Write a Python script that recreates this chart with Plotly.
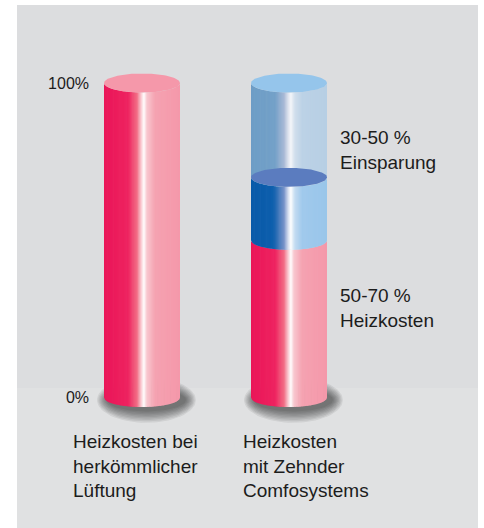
import numpy as np
import plotly.graph_objects as go

# ---------------- data ----------------
categories = ["Heizkosten bei<br>herkömmlicher<br>Lüftung",
              "Heizkosten<br>mit Zehnder<br>Comfosystems"]
conventional_stack = [100]          # heating cost with conventional ventilation
zehnder_stack = [50, 20, 30]        # min heating cost, variable part, savings
segment_labels = ["50-70 %<br>Heizkosten", "30-50 %<br>Einsparung"]
segment_label_values = [28.3, 78.6]
tick_values = [0, 100]
tick_labels = ["0%", "100%"]

# ---------------- styles ----------------
W, H = 484, 528
X0, X1 = -0.9660, 2.3265
Y0, Y1 = -41.5, 126.39
R = 0.2585          # cylinder radius in x units
RY = 3.02           # ellipse half-height in y units
NSTRIP = 64
FONT = "Liberation Sans, Arial, Helvetica, sans-serif"
TXT = "#1c1c1c"

pink_stops = [(0.0, "#ea1558"), (0.32, "#ee2360"), (0.44, "#f26f86"),
              (0.50, "#fbd6dc"), (0.53, "#ffffff"), (0.57, "#f8c6ce"),
              (0.68, "#f5a2b1"), (1.0, "#f598aa")]
dblue_stops = [(0.0, "#085aa9"), (0.30, "#0e5fad"), (0.44, "#7893c9"),
               (0.50, "#dfe6f4"), (0.53, "#ffffff"), (0.58, "#c4dcf1"),
               (0.68, "#a0c9ec"), (1.0, "#99c6ea")]
lblue_stops = [(0.0, "#6d9dc6"), (0.32, "#74a1c8"), (0.44, "#a9b9d6"),
               (0.50, "#e2e7f1"), (0.53, "#f4f6fa"), (0.58, "#d1deec"),
               (0.68, "#bcd2e6"), (1.0, "#b7cfe4")]
pink_top = "#f598aa"
dblue_top = "#5b7cbf"
lblue_top = "#95c5eb"


def hex2rgb(h):
    h = h.lstrip("#")
    return np.array([int(h[i:i + 2], 16) for i in (0, 2, 4)], dtype=float)


def grad(stops, t):
    for (t0, c0), (t1, c1) in zip(stops[:-1], stops[1:]):
        if t <= t1:
            f = 0 if t1 == t0 else (t - t0) / (t1 - t0)
            c = hex2rgb(c0) * (1 - f) + hex2rgb(c1) * f
            return "rgb(%d,%d,%d)" % tuple(np.round(c))
    c = hex2rgb(stops[-1][1])
    return "rgb(%d,%d,%d)" % tuple(c)


fig = go.Figure()


def poly(xs, ys, color):
    fig.add_trace(go.Scatter(x=xs, y=ys, mode="lines", fill="toself",
                             line=dict(width=0), fillcolor=color,
                             hoverinfo="skip", showlegend=False))


def shadow(cx):
    n = 9
    th = np.linspace(0, 2 * np.pi, 80)
    for i in range(n):
        k = i / (n - 1)
        rx = R * (1.30 - 0.26 * k)
        ry = RY * (2.4 - 1.2 * k)
        poly(cx + 0.03 + rx * np.cos(th), -0.8 + ry * np.sin(th),
             "rgba(20,20,20,0.075)")


def body(cx, low, high, stops):
    edges = np.linspace(-1, 1, NSTRIP + 1)
    pad = 0.6 / NSTRIP
    for ul, ur in zip(edges[:-1], edges[1:]):
        uc = (ul + ur) / 2
        a, b = max(-1, ul - pad), min(1, ur + pad)
        us = np.linspace(a, b, 4)
        curve = RY * np.sqrt(np.clip(1 - us * us, 0, None))
        xs = list(cx + us * R) + list(cx + us[::-1] * R)
        ys = list(low - curve) + list(high - curve[::-1])
        poly(xs, ys, grad(stops, (uc + 1) / 2))


def top(cx, level, color):
    th = np.linspace(0, 2 * np.pi, 120)
    poly(cx + R * np.cos(th), level + RY * np.sin(th), color)


xpos = list(range(len(categories)))

# shadows
for cx in xpos:
    shadow(cx)

# conventional cylinder
lvl = np.cumsum([0] + conventional_stack)
body(xpos[0], lvl[0], lvl[1], pink_stops)
top(xpos[0], lvl[1], pink_top)

# Zehnder cylinder
lvl = np.cumsum([0] + zehnder_stack)
body(xpos[1], lvl[0], lvl[1], pink_stops)
body(xpos[1], lvl[1], lvl[2], dblue_stops)
body(xpos[1], lvl[2], lvl[3], lblue_stops)
top(xpos[1], lvl[2], dblue_top)
top(xpos[1], lvl[3], lblue_top)

# segment labels
for txt, yv in zip(segment_labels, segment_label_values):
    fig.add_annotation(x=xpos[1] + 0.333, y=yv, xref="x", yref="y", text=txt,
                       showarrow=False, xanchor="left", yanchor="middle",
                       align="left", font=dict(family=FONT, size=19, color=TXT))

# category labels
for cx, txt, dx in zip(xpos, categories, [-0.483, -0.327]):
    fig.add_annotation(x=cx + dx, y=-21.8, xref="x", yref="y", text=txt,
                       showarrow=False, xanchor="left", yanchor="middle",
                       align="left", font=dict(family=FONT, size=19, color=TXT))

# background panel
fig.add_shape(type="rect", xref="paper", yref="paper",
              x0=17 / W, x1=478 / W, y0=0, y1=(H - 5) / H,
              fillcolor="#dcdddf", line=dict(width=0), layer="below")
fig.add_shape(type="rect", xref="paper", yref="paper",
              x0=17 / W, x1=478 / W, y0=0, y1=(H - 388) / H,
              fillcolor="#e0e1e2", line=dict(width=0), layer="below")

fig.update_layout(
    width=W, height=H, margin=dict(l=0, r=0, t=0, b=0),
    paper_bgcolor="white", plot_bgcolor="rgba(0,0,0,0)",
    showlegend=False,
    xaxis=dict(range=[X0, X1], visible=False, fixedrange=True, domain=[0, 1]),
    yaxis=dict(range=[Y0, Y1], tickvals=tick_values, ticktext=tick_labels,
               anchor="free", position=89 / W,
               showgrid=False, zeroline=False, showline=False, ticks="",
               tickfont=dict(family=FONT, size=16, color=TXT), fixedrange=True),
)

fig.write_html("out.html", config={"displayModeBar": False},
               post_script="document.body.style.margin='0px';")
